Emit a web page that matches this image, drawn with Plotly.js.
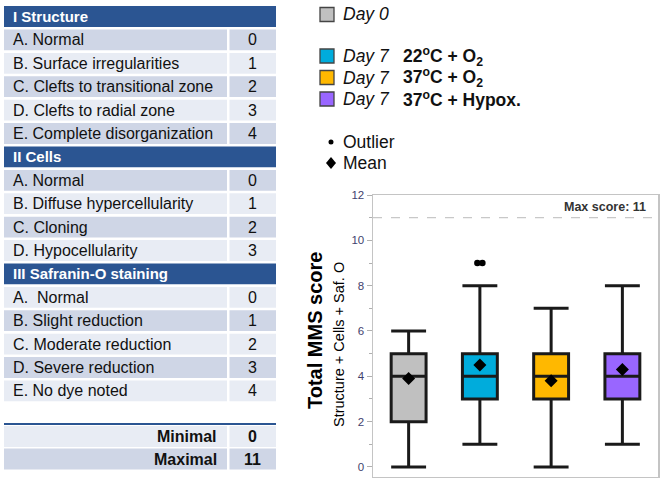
<!DOCTYPE html>
<html><head><meta charset="utf-8">
<script src="https://cdn.plot.ly/plotly-3.0.1.min.js"></script>
<style>html,body{margin:0;padding:0;background:#fff}#chart{width:664px;height:484px}</style>
</head><body><div id="chart"></div>
<script>
// ---------- Box plot data ----------
const groupNames = ['Day 0', 'Day 7 22oC + O2', 'Day 7 37oC + O2', 'Day 7 37oC + Hypox.'];
const lowerFence = [0, 1, 0, 1];
const q1Values = [2, 3, 3, 3];
const medianValues = [4, 4, 4, 4];
const q3Values = [5, 5, 5, 5];
const upperFence = [6, 8, 7, 8];
const meanValues = [3.9, 4.5, 3.8, 4.3];
const outlierGroup = [1, 1];
const outlierValues = [9, 9];
const maxScore = 11;
const yTickVals = [0, 2, 4, 6, 8, 10, 12];

// ---------- Legend texts ----------
const legendDay = ['Day 0', 'Day 7', 'Day 7', 'Day 7'];
const legendCond = ['', '22<sup>o</sup>C + O<sub>2</sub>', '37<sup>o</sup>C + O<sub>2</sub>', '37<sup>o</sup>C + Hypox.'];
const legendSymbols = ['Outlier', 'Mean'];

// ---------- Table data ----------
const structureTitle = 'I Structure';
const structureItems = ['A. Normal', 'B. Surface irregularities', 'C. Clefts to transitional zone', 'D. Clefts to radial zone', 'E. Complete disorganization'];
const structureScores = [0, 1, 2, 3, 4];
const cellsTitle = 'II Cells';
const cellsItems = ['A. Normal', 'B. Diffuse hypercellularity', 'C. Cloning', 'D. Hypocellularity'];
const cellsScores = [0, 1, 2, 3];
const safraninTitle = 'III Safranin-O staining';
const safraninItems = ['A.  Normal', 'B. Slight reduction', 'C. Moderate reduction', 'D. Severe reduction', 'E. No dye noted'];
const safraninScores = [0, 1, 2, 3, 4];
const totalLabels = ['Minimal', 'Maximal'];
const totalScores = [0, 11];

// ---------- Styling ----------
const W = 664, H = 484;
const boxColors = ['#c0c0c0', '#00acdc', '#ffb800', '#9966ff'];
const headerBlue = '#2b5592';
const darkRow = '#cfd6e6';
const lightRow = '#e8ecf4';
const X = p => p / W;
const Y = p => 1 - p / H;

const shapes = [];
const annotations = [];

function rect(x0, y0, x1, y1, fill, line) {
  shapes.push({type: 'rect', xref: 'paper', yref: 'paper', x0: X(x0), x1: X(x1), y0: Y(y1), y1: Y(y0),
    fillcolor: fill, line: line || {width: 0}, layer: 'below'});
}
function text(x, y, t, opts) {
  annotations.push(Object.assign({xref: 'paper', yref: 'paper', x: X(x), y: Y(y), text: t, showarrow: false,
    xanchor: 'left', yanchor: 'middle', font: {family: 'Arial, Liberation Sans', size: 16, color: '#111'}}, opts || {}));
}

// ---------- Build table ----------
const rows = [];
function addSection(title, items, scores) {
  rows.push({header: true, text: title});
  items.forEach((it, k) => rows.push({header: false, text: it, score: scores[k]}));
}
addSection(structureTitle, structureItems, structureScores);
addSection(cellsTitle, cellsItems, cellsScores);
addSection(safraninTitle, safraninItems, safraninScores);

const tLeft = 4, tDiv0 = 227, tDiv1 = 229.5, tRight = 276, pitch = 23.4, half = 10.4;
rows.forEach((r, i) => {
  const c = 16.5 + pitch * i;
  if (r.header) {
    rect(tLeft, c - half, tRight, c + half, headerBlue);
    text(11, c, '<b>' + r.text + '</b>', {font: {family: 'Arial, Liberation Sans', size: 15, color: '#ffffff'}});
  } else {
    const fill = (i % 2 === 1) ? darkRow : lightRow;
    rect(tLeft, c - half, tDiv0, c + half, fill);
    rect(tDiv1, c - half, tRight, c + half, fill);
    text(11, c, r.text);
    text(252, c, String(r.score), {xanchor: 'center'});
  }
});
// totals
shapes.push({type: 'line', xref: 'paper', yref: 'paper', x0: X(tLeft), x1: X(tRight), y0: Y(424), y1: Y(424),
  line: {color: headerBlue, width: 2}});
const totalCentres = [436.5, 459];
totalLabels.forEach((lab, k) => {
  const c = totalCentres[k];
  const fill = k === 0 ? lightRow : darkRow;
  rect(tLeft, c - half, tDiv0, c + half, fill);
  rect(tDiv1, c - half, tRight, c + half, fill);
  text(219, c, '<b>' + lab + '</b>', {xanchor: 'right'});
  text(252, c, '<b>' + totalScores[k] + '</b>', {xanchor: 'center'});
});

// ---------- Legend ----------
const legY = [14.5, 56, 77.5, 99];
legendDay.forEach((d, k) => {
  const c = legY[k];
  rect(320, c - 7, 334, c + 7, boxColors[k], {color: '#444', width: 1.3});
  shapes[shapes.length - 1].layer = 'above';
  text(341, c, '<i>' + d + '</i>', {font: {family: 'Arial, Liberation Sans', size: 17.5, color: '#111'}});
  if (legendCond[k]) text(401, c, '<b>' + legendCond[k] + '</b>', {font: {family: 'Arial, Liberation Sans', size: 17.5, color: '#111'}});
});
const symY = [142, 163];
shapes.push({type: 'circle', xref: 'paper', yref: 'paper', x0: X(328.5), x1: X(333.5), y0: Y(144.5), y1: Y(139.5),
  fillcolor: '#000', line: {width: 0}});
shapes.push({type: 'path', xref: 'paper', yref: 'paper',
  path: `M ${X(331)},${Y(157)} L ${X(336)},${Y(163)} L ${X(331)},${Y(169)} L ${X(326)},${Y(163)} Z`,
  fillcolor: '#000', line: {width: 0}});
legendSymbols.forEach((s, k) => text(341, symY[k], s, {font: {family: 'Arial, Liberation Sans', size: 17.5, color: '#111'}}));

// ---------- Axis titles ----------
annotations.push({xref: 'paper', yref: 'paper', x: X(315), y: Y(331), text: '<b>Total MMS score</b>', textangle: -90,
  showarrow: false, xanchor: 'center', yanchor: 'middle', font: {family: 'Arial, Liberation Sans', size: 20, color: '#000'}});
annotations.push({xref: 'paper', yref: 'paper', x: X(339), y: Y(345), text: 'Structure + Cells + Saf. O', textangle: -90,
  showarrow: false, xanchor: 'center', yanchor: 'middle', font: {family: 'Arial, Liberation Sans', size: 14.5, color: '#000'}});

// max score line + label
shapes.push({type: 'line', xref: 'x domain', yref: 'y', x0: 0, x1: 1, y0: maxScore, y1: maxScore,
  line: {color: '#c8c8c8', width: 1.2, dash: 'dash'}, layer: 'below'});
annotations.push({xref: 'x domain', yref: 'y', x: 0.965, y: maxScore + 0.47, text: '<b>Max score: ' + maxScore + '</b>',
  showarrow: false, xanchor: 'right', yanchor: 'middle', font: {family: 'Arial, Liberation Sans', size: 12.5, color: '#333'}});

// ---------- Traces ----------
const traces = groupNames.map((g, i) => ({
  type: 'box', name: g, x: [i], q1: [q1Values[i]], median: [medianValues[i]], q3: [q3Values[i]],
  lowerfence: [lowerFence[i]], upperfence: [upperFence[i]],
  fillcolor: boxColors[i], line: {color: '#1a1a1a', width: 3}, whiskerwidth: 1, width: 0.49,
  boxpoints: false, showlegend: false, hoverinfo: 'skip'
}));
const jitter = [-0.035, 0.035];
traces.push({type: 'scatter', mode: 'markers', x: outlierGroup.map((g, k) => g + jitter[k]), y: outlierValues,
  marker: {symbol: 'circle', size: 6.5, color: '#000'}, showlegend: false, hoverinfo: 'skip'});
traces.push({type: 'scatter', mode: 'markers', x: meanValues.map((m, i) => i), y: meanValues,
  marker: {symbol: 'diamond', size: 10, color: '#000'}, showlegend: false, hoverinfo: 'skip'});

const layout = {
  width: W, height: H, margin: {l: 0, r: 0, t: 0, b: 0},
  paper_bgcolor: '#fff', plot_bgcolor: '#fff', showlegend: false,
  xaxis: {domain: [X(373), X(658)], range: [-0.5, 3.5], showticklabels: false, ticks: '', showgrid: false,
    zeroline: false, showline: true, mirror: true, linecolor: '#c4c4c4', linewidth: 1.5, fixedrange: true},
  yaxis: {domain: [Y(476.5), Y(195)], range: [-0.42, 12], tickvals: yTickVals, ticks: 'outside', ticklen: 5,
    tickcolor: '#b0b0b0', tickwidth: 1, showgrid: false, zeroline: false, showline: true, mirror: true,
    linecolor: '#c4c4c4', linewidth: 1.5, tickfont: {family: 'Arial, Liberation Sans', size: 11.5, color: '#3f3f6e'},
    minor: {dtick: 1, tick0: 0, ticks: 'outside', ticklen: 3, tickcolor: '#b0b0b0', showgrid: false}, fixedrange: true},
  shapes: shapes, annotations: annotations
};
Plotly.newPlot('chart', traces, layout, {displayModeBar: false, staticPlot: true});
</script></body></html>
